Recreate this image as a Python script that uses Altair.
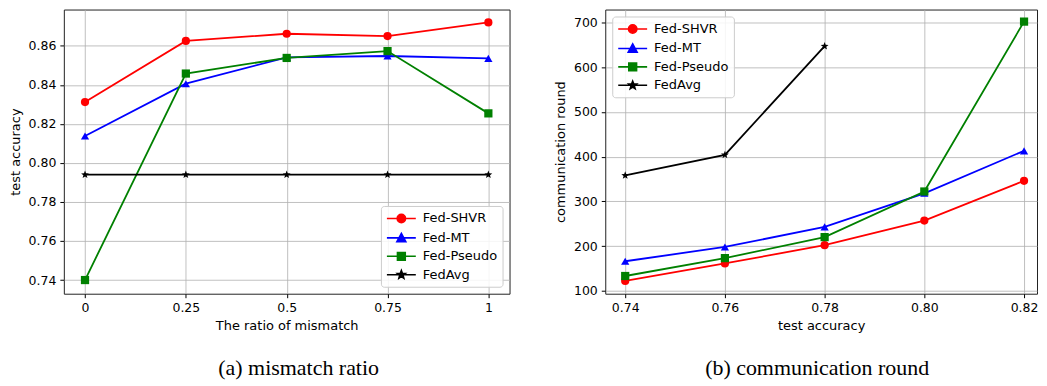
import math
import altair as alt
import pandas as pd

# ---------------- data ----------------
series = ["Fed-SHVR", "Fed-MT", "Fed-Pseudo", "FedAvg"]
colors = ["#ff0000", "#0000ff", "#008000", "#000000"]

left_x = [0, 0.25, 0.5, 0.75, 1]
left_shvr = [0.8312, 0.8625, 0.8662, 0.8650, 0.8720]
left_mt = [0.8138, 0.8406, 0.8541, 0.8548, 0.8536]
left_pseudo = [0.7400, 0.8458, 0.8538, 0.8573, 0.8254]
left_fedavg = [0.7940, 0.7940, 0.7940, 0.7940, 0.7940]

right_x = [0.74, 0.76, 0.78, 0.80, 0.82]
right_shvr = [122, 161, 202, 257, 346]
right_mt = [166, 198, 243, 318, 413]
right_pseudo = [133, 173, 220, 322, 702]
right_fedavg_x = [0.74, 0.76, 0.78]
right_fedavg = [358, 404, 647]

left_ticks_x = [0, 0.25, 0.5, 0.75, 1]
left_ticks_y = [0.74, 0.76, 0.78, 0.80, 0.82, 0.84, 0.86]
right_ticks_x = [0.74, 0.76, 0.78, 0.80, 0.82]
right_ticks_y = [100, 200, 300, 400, 500, 600, 700]


def long_df(xs_list, ys_list):
    rows = []
    for i, (xs, ys) in enumerate(zip(xs_list, ys_list)):
        for x, y in zip(xs, ys):
            rows.append({"series": series[i], "order": i, "x": x, "y": y})
    return pd.DataFrame(rows)


left_df = long_df([left_x] * 4, [left_shvr, left_mt, left_pseudo, left_fedavg])
right_df = long_df([right_x, right_x, right_x, right_fedavg_x],
                   [right_shvr, right_mt, right_pseudo, right_fedavg])

# ---------------- marker shapes ----------------
def star_path(R, r, cy=0.0):
    pts = []
    for k in range(10):
        ang = math.radians(-90 + 36 * k)
        rad = R if k % 2 == 0 else r
        pts.append((rad * math.cos(ang), rad * math.sin(ang) + cy))
    return "M" + "L".join(f"{px:.3f},{py:.3f}" for px, py in pts) + "Z"


def circle_path(r):
    k = 0.5523 * r
    return (f"M{r},0C{r},{k} {k},{r} 0,{r}C{-k},{r} {-r},{k} {-r},0"
            f"C{-r},{-k} {-k},{-r} 0,{-r}C{k},{-r} {r},{-k} {r},0Z")


plot_shapes = ["circle", "triangle-up", "square", star_path(1.0, 0.42)]
# legend symbols: size 169 -> 6.5 px per path unit
line_seg = "M-2.23,0H2.23"
legend_shapes = [
    line_seg + circle_path(0.646),
    line_seg + "M0,-0.69L0.69,0.6L-0.69,0.6Z",
    line_seg + "M-0.6,-0.6H0.6V0.6H-0.6Z",
    line_seg + star_path(0.64, 0.27),
]

FONT = "DejaVu Sans"


def panel(df, xdom, ydom, xticks, yticks, xlabel_expr, yfmt, xtitle, ytitle,
          width, height, legend_orient, caption, cap_dx):
    color_scale = alt.Scale(domain=series, range=colors)
    x = alt.X("x:Q", scale=alt.Scale(domain=xdom, nice=False, zero=False),
              axis=alt.Axis(values=xticks, labelExpr=xlabel_expr, title=xtitle))
    y = alt.Y("y:Q", scale=alt.Scale(domain=ydom, nice=False, zero=False),
              axis=alt.Axis(values=yticks, format=yfmt, title=ytitle))
    base = alt.Chart(df)
    layers = []
    for i, s in enumerate(series):
        sub = base.transform_filter(alt.datum.series == s)
        layers.append(sub.mark_line(strokeWidth=1.8).encode(
            x=x, y=y,
            color=alt.Color("series:N", scale=color_scale, legend=None),
            order="x:Q",
        ))
        layers.append(sub.mark_point(filled=True, size=68, opacity=1, shape=plot_shapes[i]).encode(
            x=x, y=y,
            color=alt.Color("series:N", scale=color_scale, legend=None),
        ))
    leg = alt.Legend(
        title=None, orient=legend_orient, offset=7,
        fillColor="rgba(255,255,255,0.85)", strokeColor="#cccccc",
        cornerRadius=3, padding=5,
        symbolSize=169, symbolStrokeWidth=1.6, symbolOpacity=1,
        symbolOffset=8,
        labelFont=FONT, labelFontSize=13, labelColor="black",
        labelOffset=14, rowPadding=3.5,
    )
    legend_layer = base.transform_filter("false").mark_point(filled=True, opacity=1).encode(
        fill=alt.Fill("series:N", scale=alt.Scale(domain=series, range=colors), legend=leg),
        stroke=alt.Stroke("series:N", scale=alt.Scale(domain=series, range=colors), legend=leg),
        shape=alt.Shape("series:N", scale=alt.Scale(domain=series, range=legend_shapes), legend=leg),
    )
    layers.append(legend_layer)
    return alt.layer(*layers).properties(
        width=width, height=height,
        title=alt.TitleParams(caption, orient="bottom", anchor="middle", font="Liberation Serif",
                              fontSize=22, fontWeight="normal", color="black",
                              offset=26, dx=cap_dx),
    )


left = panel(left_df, [-0.0525, 1.0525], [0.733, 0.8786], left_ticks_x, left_ticks_y,
             "toString(datum.value)", ".2f", "The ratio of mismatch", "test accuracy",
             447, 285, "bottom-right", "(a)  mismatch ratio", 12)
right = panel(right_df, [0.736, 0.8226], [93.4, 729], right_ticks_x, right_ticks_y,
              "format(datum.value, '.2f')", "d", "test accuracy", "communication round",
              433, 285, "top-left", "(b)  communication round", -4)

chart = alt.hconcat(left, right, spacing=43).properties(
    padding={"left": 0, "top": 0, "right": 0, "bottom": 0}
).configure_view(
    stroke="#222222", strokeWidth=1
).configure_axis(
    labelFont=FONT, labelFontSize=12.5, labelColor="black",
    titleFont=FONT, titleFontSize=13, titleFontWeight="normal", titleColor="black",
    grid=True, gridColor="#b0b0b0", gridWidth=0.8,
    domain=False, tickColor="black", tickSize=4, tickWidth=1,
    labelPadding=4, titlePadding=5,
).configure_axisY(titlePadding=6)

chart.save("out.html", embed_options={"renderer": "svg", "actions": False})
